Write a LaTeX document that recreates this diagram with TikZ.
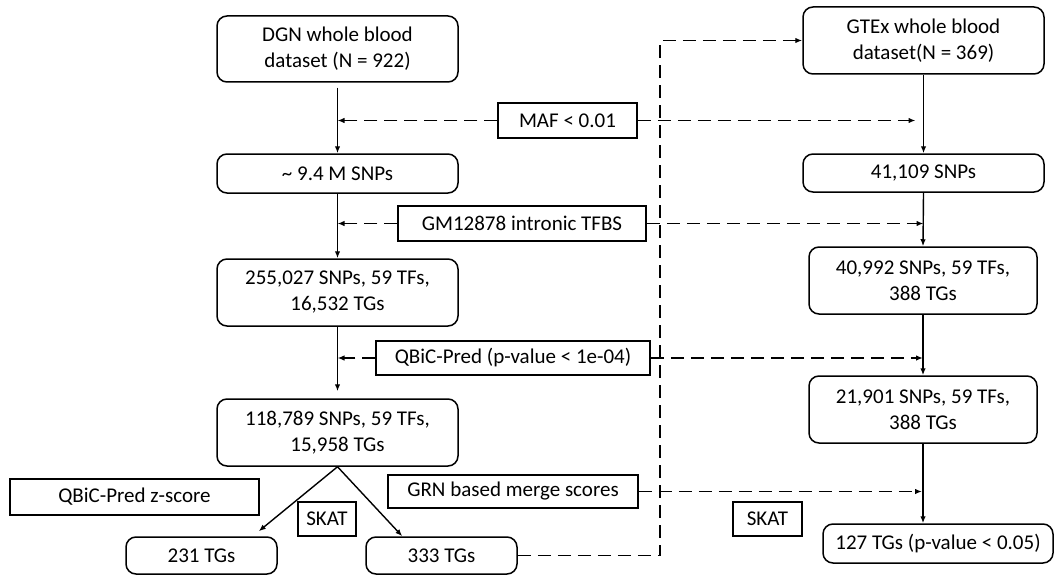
\documentclass[tikz,border=0pt]{standalone}
\usepackage{fontspec}
\setmainfont{Carlito}
\usetikzlibrary{arrows.meta,calc}
\begin{document}
\begin{tikzpicture}[x=1pt,y=-1pt,
  font=\fontsize{21}{26}\selectfont,
  rbox/.style={draw, rounded corners=10pt, line width=1.5pt, align=center, inner sep=0pt},
  sbox/.style={draw, line width=1.5pt, align=center, inner sep=0pt},
  flow/.style={line width=1.4pt, -{Latex[length=7pt,width=5.5pt]}},
  dflow/.style={flow, dash pattern=on 13pt off 7pt}]
\useasboundingbox (0,0) rectangle (1057,575);

% left column
\node[rbox, minimum width=241pt, minimum height=66pt] (dgn) at (337.5,49) {DGN whole blood\\dataset (N = 922)};
\node[rbox, minimum width=241pt, minimum height=39pt] (snp94) at (337.5,173.5) {\textasciitilde{} 9.4 M SNPs};
\node[rbox, minimum width=241pt, minimum height=67pt] (s255) at (337.5,292.5) {255,027 SNPs, 59 TFs,\\16,532 TGs};
\node[rbox, minimum width=241pt, minimum height=67pt] (s118) at (337.5,432.5) {118,789 SNPs, 59 TFs,\\15,958 TGs};
\node[rbox, minimum width=151pt, minimum height=37pt] (t231) at (201.5,555.5) {231 TGs};
\node[rbox, minimum width=151pt, minimum height=37pt] (t333) at (441.5,555.5) {333 TGs};

% right column
\node[rbox, minimum width=241pt, minimum height=67pt] (gtex) at (923.5,40.5) {GTEx whole blood\\dataset(N = 369)};
\node[rbox, minimum width=241pt, minimum height=38pt] (s41) at (923.5,173) {41,109 SNPs};
\node[rbox, minimum width=228pt, minimum height=67pt] (s40) at (923,280.5) {40,992 SNPs, 59 TFs,\\388 TGs};
\node[rbox, minimum width=228pt, minimum height=67pt] (s21) at (923,409.5) {21,901 SNPs, 59 TFs,\\388 TGs};
\node[rbox, minimum width=230pt, minimum height=39pt] (s127) at (938,543.5) {127 TGs (p-value < 0.05)};

% filter labels
\node[sbox, minimum width=139pt, minimum height=35pt] (maf) at (567.5,120.5) {MAF < 0.01};
\node[sbox, minimum width=248pt, minimum height=35pt] (gm) at (522,223.5) {GM12878 intronic TFBS};
\node[sbox, minimum width=274pt, minimum height=34pt] (qbic) at (513,358) {QBiC-Pred (p-value < 1e-04)};
\node[sbox, minimum width=249pt, minimum height=36pt] (zs) at (134.5,497) {QBiC-Pred z-score};
\node[sbox, minimum width=58pt, minimum height=34pt] (skatl) at (327,519) {SKAT};
\node[sbox, minimum width=250pt, minimum height=33pt] (grn) at (513,491.5) {GRN based merge scores};
\node[sbox, minimum width=69pt, minimum height=34pt] (skatr) at (767.5,519) {SKAT};

% left vertical flow
\draw[flow] ([yshift=-5pt]dgn.south) -- (snp94.north);
\draw[flow] (snp94.south) -- (s255.north);
\draw[flow] (s255.south) -- ([yshift=7pt]s118.north);
\draw[flow] (s118.south) -- ([xshift=-19pt,yshift=5pt]t231.north east);
\draw[flow] (s118.south) -- ([xshift=37pt]t333.north west);

% right vertical flow
\draw[flow] (gtex.south) -- (s41.north);
\draw[flow] (s41.south) -- (s40.north);
\draw[flow] (s40.south) -- (s21.north);
\draw[flow] (s21.south) -- (s21.south |- s127.north);

% dashed filter arrows
\draw[dflow] (maf.west) -- (dgn.south |- maf.west);
\draw[dflow, shorten >=8pt] (maf.east) -- (gtex.south |- maf.east);
\draw[dflow] (gm.west) -- (dgn.south |- gm.west);
\draw[dflow] (gm.east) -- (s41.south |- gm.east);
\draw[dflow] (qbic.west) -- (s255.south |- qbic.west);
\draw[dflow] (qbic.east) -- (s40.south |- qbic.east);
\draw[dflow, shorten >=1pt] (grn.east) -- (s21.south |- grn.east);

% 333 TGs to GTEx
\coordinate (vx) at (660,42);
\draw[dflow] (t333.east) -- (t333.east -| vx) -- (vx |- gtex.west) -- (gtex.west);
\end{tikzpicture}
\end{document}
